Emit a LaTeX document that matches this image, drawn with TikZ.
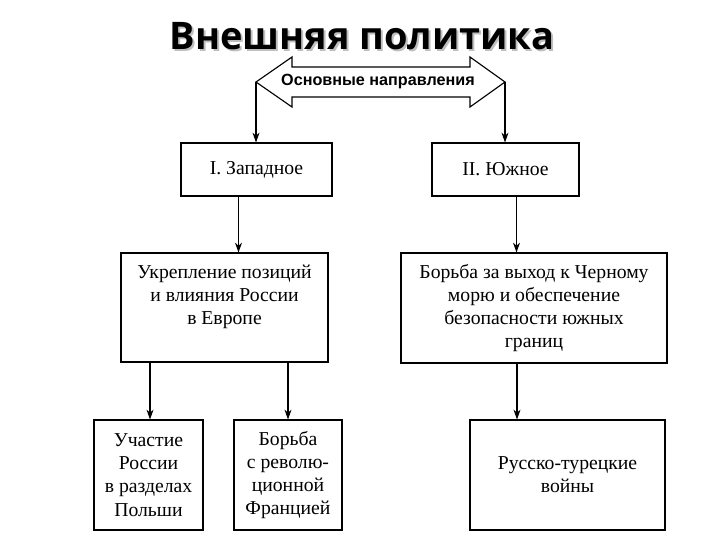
\documentclass[tikz,border=0pt]{standalone}
\usepackage{fontspec}
\setmainfont{Liberation Serif}
\newfontfamily\titlefont{Open Sans}
\newfontfamily\headfont{Liberation Sans}
\usetikzlibrary{arrows.meta}
\tikzset{
  box/.style={draw,thick,align=center,inner sep=0pt,font=\fontsize{14}{16.5}\selectfont},
  arr/.style={-{Stealth[length=7pt,width=5pt]},thick}
}
\begin{document}
\begin{tikzpicture}[x=0.025cm,y=-0.025cm]
    \useasboundingbox (0,0) rectangle (720,540);
    \node[font=\titlefont\bfseries\fontsize{27}{30}\selectfont,text=gray!50] at (364,38) {Внешняя политика};
    \node[font=\titlefont\bfseries\fontsize{27}{30}\selectfont] (title) at (362,36) {Внешняя политика};
    % block arrow
    \draw[thick] (256,82) -- (292,57) -- (292,67) -- (470,67) -- (470,57) -- (505,82)
        -- (470,107) -- (470,97) -- (292,97) -- (292,107) -- cycle;
    \node[font=\headfont\bfseries\fontsize{11.5}{13}\selectfont] (dir) at (378,82) {Основные направления};
    \coordinate (lt) at (256,82);
    \coordinate (rt) at (505,82);
    % boxes
    \node[box,minimum width=151*0.025cm,minimum height=53*0.025cm] (w) at (256.5,169.5) {I. Западное};
    \node[box,minimum width=147*0.025cm,minimum height=53*0.025cm] (s) at (505.5,169.5) {II. Южное};
    \node[box,minimum width=207*0.025cm,minimum height=109*0.025cm] (eur) at (224.5,307.5) {};
    \node[box,draw=none] (eurt) at (224.5,297) {Укрепление позиций\\и влияния России\\в Европе};
    \node[box,minimum width=266*0.025cm,minimum height=110*0.025cm] (sea) at (534,308) {Борьба за выход к Черному\\морю и обеспечение\\безопасности южных\\границ};
    \node[box,minimum width=109*0.025cm,minimum height=110*0.025cm] (pol) at (148.5,475) {Участие\\России\\в разделах\\Польши};
    \node[box,minimum width=108*0.025cm,minimum height=110*0.025cm] (fr) at (288,475) {Борьба\\с револю-\\ционной\\Францией};
    \node[box,minimum width=195*0.025cm,minimum height=110*0.025cm] (tur) at (567.5,475) {Русско-турецкие\\войны};
    % connectors
    \coordinate (e1) at (150,362); \coordinate (e2) at (288,362);
    \draw[arr] (lt) -- (lt |- w.north);
    \draw[arr] (rt) -- (rt |- s.north);
    \draw[arr] ([xshift=-18*0.025cm]w.south) -- ([xshift=-18*0.025cm]w.south |- eur.north);
    \draw[arr] ([xshift=11*0.025cm]s.south) -- ([xshift=11*0.025cm]s.south |- sea.north);
    \draw[arr] (e1) -- (e1 |- pol.north);
    \draw[arr] (e2) -- (fr.north);
    \draw[arr] ([xshift=-17*0.025cm]sea.south) -- ([xshift=-17*0.025cm]sea.south |- tur.north);
\end{tikzpicture}
\end{document}
